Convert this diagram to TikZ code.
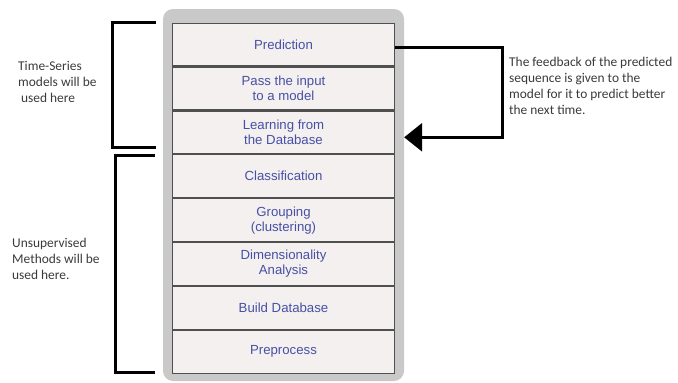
\documentclass[tikz,border=0pt]{standalone}
\usepackage{fontspec}
\setmainfont{Carlito}
\newfontfamily\stagefont{Liberation Sans}
\usetikzlibrary{positioning,arrows.meta}
\definecolor{panelgray}{HTML}{C9C9C9}
\definecolor{stagefill}{HTML}{F3F0EF}
\definecolor{stageline}{HTML}{505050}
\definecolor{stagetext}{HTML}{4750A5}
\definecolor{notetext}{HTML}{3A3A3A}
\tikzset{
  panel/.style={fill=panelgray, rounded corners=10pt, minimum width=241pt, minimum height=372pt, inner sep=0pt},
  stage/.style={draw=stageline, line width=1.2pt, fill=stagefill, minimum width=222pt, minimum height=42.7pt, inner sep=0pt, align=center, text=stagetext, font=\stagefont\fontsize{13.2}{15}\selectfont},
  bracket/.style={line width=3pt},
  note/.style={anchor=north west, inner sep=0pt, align=left, text=notetext, font=\fontsize{13.4}{16}\selectfont}
}

\begin{document}
\begin{tikzpicture}[x=1pt,y=-1pt]
\useasboundingbox (0,0) rectangle (678,383);

% panel with the stages
\node[panel] (panel) at (283.5,195) {};
\node[stage] (pred) at (283.5,44.5) {Prediction};
\node[stage, below=0pt of pred] (pass) {Pass the input\\to a model};
\node[stage, below=0pt of pass] (learn) {Learning from\\the Database};
\node[stage, below=0pt of learn] (class) {Classification};
\node[stage, below=0pt of class] (group) {Grouping\\(clustering)};
\node[stage, below=0pt of group] (dim) {Dimensionality\\Analysis};
\node[stage, below=0pt of dim] (build) {Build Database};
\node[stage, below=0pt of build] (prep) {Preprocess};

% brackets
\draw[bracket] (156,22) -- (112,22) -- (112,147) -- (156,147);
\draw[bracket] (155,155) -- (115,155) -- (115,372) -- (155,372);

\node[note] (tsnote) at (18,61) {Time-Series\\models will be\\\hspace*{3pt}used here};
\node[note] (unnote) at (12,238) {Unsupervised\\Methods will be\\used here.};

% feedback loop
\coordinate (tip) at ([yshift=-5pt]learn.east -| panel.east);
\draw[line width=3pt, -{Triangle[length=18pt,width=28pt]}] ([yshift=-3pt]pred.east) -- ++(107,0) |- (tip);
\node[note] (fbnote) at (509,57) {The feedback of the predicted\\sequence is given to the\\model for it to predict better\\the next time.};
\end{tikzpicture}
\end{document}
